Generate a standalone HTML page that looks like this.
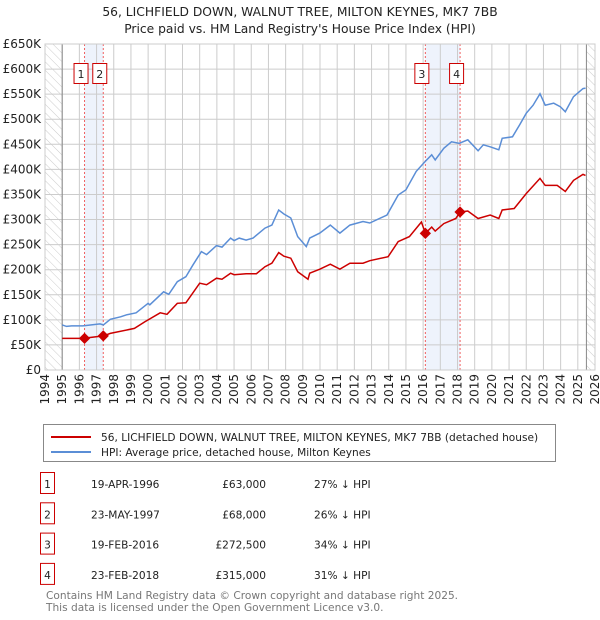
<!DOCTYPE html>
<html><head><meta charset="utf-8"><style>
body{margin:0;background:#fff;font-family:"Liberation Sans","DejaVu Sans",sans-serif;}
svg{display:block}
</style></head><body>
<svg id="c" width="600" height="620" xmlns="http://www.w3.org/2000/svg" font-family="DejaVu Sans, Liberation Sans, sans-serif">
<defs><pattern id="hatch" width="6" height="6" patternUnits="userSpaceOnUse" patternTransform="rotate(-45)"><line x1="0" y1="0" x2="0" y2="6" stroke="#ccc" stroke-width="1"/></pattern></defs>
<text x="300" y="16" text-anchor="middle" font-size="12.3" fill="#222">56, LICHFIELD DOWN, WALNUT TREE, MILTON KEYNES, MK7 7BB</text>
<text x="300" y="33" text-anchor="middle" font-size="12.3" fill="#222">Price paid vs. HM Land Registry's House Price Index (HPI)</text>
<g id="plot"></g>
<g>
<rect x="43.5" y="424.5" width="512" height="37" fill="#fff" stroke="#888"/>
<line x1="51" y1="437" x2="91" y2="437" stroke="#cc0000" stroke-width="2"/>
<text x="101" y="441" font-size="10.6" fill="#222">56, LICHFIELD DOWN, WALNUT TREE, MILTON KEYNES, MK7 7BB (detached house)</text>
<line x1="51" y1="452" x2="91" y2="452" stroke="#5b8ed6" stroke-width="2"/>
<text x="101" y="456" font-size="10.6" fill="#222">HPI: Average price, detached house, Milton Keynes</text>
</g>
<g id="table" font-size="10.6" fill="#222"></g>
<text x="46" y="599" font-size="10.6" fill="#777">Contains HM Land Registry data © Crown copyright and database right 2025.</text>
<text x="46" y="611" font-size="10.6" fill="#777">This data is licensed under the Open Government Licence v3.0.</text>
</svg>
<script>
const hpiYears=[1995.0,1995.25,1995.55,1996.2,1997.2,1997.4,1997.8,1998.4,1998.75,1999.3,2000.0,2000.1,2000.9,2001.2,2001.7,2002.2,2002.6,2003.1,2003.4,2003.98,2004.3,2004.8,2005.0,2005.3,2005.7,2006.1,2006.8,2007.2,2007.6,2007.9,2008.3,2008.7,2009.2,2009.4,2009.99,2010.6,2011.16,2011.74,2012.5,2012.9,2013.9,2014.55,2015.0,2015.6,2016.1,2016.5,2016.7,2017.2,2017.65,2018.1,2018.6,2019.2,2019.5,2019.9,2020.4,2020.6,2021.2,2021.6,2022.0,2022.4,2022.8,2023.1,2023.6,2023.98,2024.27,2024.75,2025.3,2025.45];
const hpiValues=[90,87,88,88,92,90,101,106,110,114,133,130,156,151,176,186,209,236,230,248,245,263,258,263,259,263,283,289,319,311,303,266,246,263,273,289,273,289,296,293,309,349,359,396,415,429,419,442,455,452,459,437,449,445,439,462,465,488,512,528,551,528,532,525,515,545,561,562];
const priceYears=[1995.0,1996.2,1997.4,1997.8,1999.2,1999.8,2000.7,2001.1,2001.7,2002.2,2003.0,2003.4,2003.98,2004.3,2004.8,2005.0,2005.7,2006.3,2006.8,2007.2,2007.6,2007.9,2008.3,2008.7,2009.3,2009.4,2009.99,2010.6,2011.16,2011.74,2012.5,2012.9,2013.96,2014.55,2015.2,2015.9,2016.13,2016.5,2016.7,2017.2,2017.9,2018.15,2018.6,2019.2,2019.9,2020.4,2020.6,2021.3,2022.0,2022.8,2023.1,2023.8,2024.27,2024.75,2025.3,2025.45];
const priceValues=[63,63,68,73,83,96,114,111,133,134,173,170,183,181,193,190,192,192,206,213,234,227,223,196,181,193,201,211,201,213,213,218,226,256,266,295,272.5,285,277,292,302,315,317,302,309,302,319,322,352,382,368,368,356,378,390,388];
const saleLabels=["1","2","3","4"];
const saleYears=[1996.3,1997.39,2016.13,2018.15];
const saleValues=[63,68,272.5,315];
const saleDates=["19-APR-1996","23-MAY-1997","19-FEB-2016","23-FEB-2018"];
const salePrices=["£63,000","£68,000","£272,500","£315,000"];
const salePct=["27% ↓ HPI","26% ↓ HPI","34% ↓ HPI","31% ↓ HPI"];
const yTicks=[0,50,100,150,200,250,300,350,400,450,500,550,600,650];
const xTicks=[];for(let y=1994;y<=2026;y++)xTicks.push(y);

const X0=45,X1=595,Y0=370,Y1=44;
const xs=y=>X0+(y-1994)*(X1-X0)/32;
const ys=v=>Y0-v*(Y0-Y1)/650;
const NS="http://www.w3.org/2000/svg";
const plot=document.getElementById('plot');
function mk(tag,attrs,parent){const e=document.createElementNS(NS,tag);for(const k in attrs)e.setAttribute(k,attrs[k]);(parent||plot).appendChild(e);return e;}
let h1=mk('rect',{x:xs(1994),y:Y1,width:xs(1995)-xs(1994),height:Y0-Y1,fill:'url(#hatch)'});


let h2=mk('rect',{x:xs(2025.5),y:Y1,width:xs(2026)-xs(2025.5),height:Y0-Y1,fill:'url(#hatch)'});


[[0,1],[2,3]].forEach((p,i)=>{let b=mk('rect',{x:xs(saleYears[p[0]]),y:Y1,width:xs(saleYears[p[1]])-xs(saleYears[p[0]]),height:Y0-Y1,fill:'#eef3fc'});

});
yTicks.forEach(v=>{let l=mk('line',{x1:X0,x2:X1,y1:ys(v),y2:ys(v),stroke:'#ccc','stroke-width':1});


let t=mk('text',{x:X0-4,y:ys(v)+4,'text-anchor':'end','font-size':12,fill:'#222'});t.textContent=v===0?'£0':'£'+v+'K';

});
xTicks.forEach(y=>{let l=mk('line',{x1:xs(y),x2:xs(y),y1:Y1,y2:Y0,stroke:'#ccc','stroke-width':1});


let t=mk('text',{x:0,y:0,'text-anchor':'end','font-size':12,fill:'#222',transform:`translate(${xs(y)+4},${Y0+4}) rotate(-90)`});t.textContent=y;

});
let ax=mk('line',{x1:xs(1995),x2:xs(1995),y1:Y1,y2:Y0,stroke:'#888'});


let ax2=mk('line',{x1:xs(2025.5),x2:xs(2025.5),y1:Y1,y2:Y0,stroke:'#888'});


saleYears.forEach((y,i)=>{let l=mk('line',{x1:xs(y),x2:xs(y),y1:Y1,y2:Y0,stroke:'#f06060','stroke-dasharray':'2,2'});


let r=mk('rect',{x:xs(y)-10.5,y:63.5,width:14,height:20,fill:'#fff',stroke:'#cc0000'});


let t=mk('text',{x:xs(y)-3.5,y:78,'text-anchor':'middle','font-size':11,fill:'#222'});t.textContent=saleLabels[i];

});
const path=(xa,va)=>xa.map((y,i)=>(i?'L':'M')+xs(y).toFixed(1)+','+ys(va[i]).toFixed(1)).join('');
let hp=mk('path',{d:path(hpiYears,hpiValues),fill:'none',stroke:'#5b8ed6','stroke-width':1.5});


let pp=mk('path',{d:path(priceYears,priceValues),fill:'none',stroke:'#cc0000','stroke-width':1.5});


saleYears.forEach((y,i)=>{let d=mk('rect',{x:xs(y)-4,y:ys(saleValues[i])-4,width:8,height:8,fill:'#cc0000',transform:`rotate(45 ${xs(y)} ${ys(saleValues[i])})`});

});
let fr=mk('rect',{x:X0,y:Y1,width:X1-X0,height:Y0-Y1,fill:'none',stroke:'#ccc'});


const tb=document.getElementById('table');
saleLabels.forEach((s,i)=>{const cy=484+i*30.3;
let r=mk('rect',{x:40.5,y:cy-11.5,width:14,height:21,fill:'#fff',stroke:'#cc0000'},tb);


const cells=[[47.5,s,'middle'],[91,saleDates[i],'start'],[266,salePrices[i],'end'],[314,salePct[i],'start']];
cells.forEach((c,j)=>{let t=mk('text',{x:c[0],y:cy+4,'text-anchor':c[2],'font-size':10.6,fill:'#222'},tb);t.textContent=c[1];

});});
</script>
</body></html>
